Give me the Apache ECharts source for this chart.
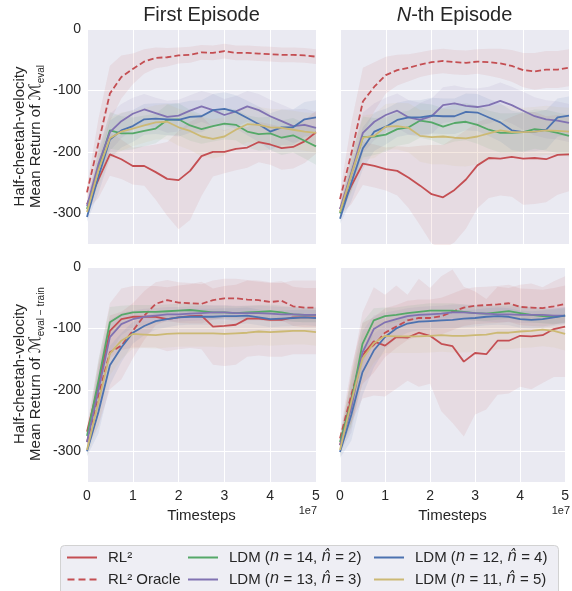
<!DOCTYPE html>
<html>
<head>
<meta charset="utf-8">
<script src="https://cdn.jsdelivr.net/npm/echarts@6/dist/echarts.min.js"></script>
<style>
  html, body { margin: 0; padding: 0; background: #fff; }
  #chart { width: 572px; height: 591px; }
</style>
</head>
<body>
<div id="chart"></div>
<script>
// timesteps, in units of 1e7
const steps = [0, 0.25, 0.5, 0.75, 1, 1.25, 1.5, 1.75, 2, 2.25, 2.5, 2.75, 3, 3.25, 3.5, 3.75, 4, 4.25, 4.5, 4.75, 5];

// --- M_eval, first episode ---
const evalFirstRl2 = [-285, -245, -204, -212, -223, -223, -233, -244, -246, -231, -207, -200, -200, -195, -193, -184, -188, -194, -192, -183, -168];
const evalFirstRl2Sd = [10, 30, 35, 32, 30, 32, 45, 60, 80, 80, 65, 40, 35, 35, 33, 33, 33, 35, 35, 35, 35];
const evalFirstOracle = [-266, -186, -105, -78, -65, -53, -47, -46, -43, -42, -38, -39, -36, -39, -39, -40, -41, -42, -42, -43, -45];
const evalFirstOracleSd = [10, 40, 45, 35, 25, 20, 17, 15, 13, 13, 12, 12, 12, 12, 12, 12, 12, 12, 12, 12, 12];
const evalFirstLdm14 = [-293, -225, -165, -170, -170, -166, -162, -148, -147, -157, -163, -158, -154, -156, -167, -171, -170, -177, -173, -182, -191];
const evalFirstLdm14Sd = [8, 26, 30, 28, 26, 25, 24, 25, 26, 25, 24, 25, 26, 25, 26, 27, 27, 28, 28, 29, 30];
const evalFirstLdm13 = [-288, -220, -168, -150, -138, -131, -137, -143, -141, -133, -126, -132, -140, -134, -126, -132, -142, -150, -158, -156, -161];
const evalFirstLdm13Sd = [8, 26, 30, 28, 26, 25, 25, 26, 26, 25, 25, 26, 26, 25, 25, 26, 27, 27, 27, 26, 26];
const evalFirstLdm12 = [-306, -240, -180, -165, -158, -147, -146, -147, -148, -143, -142, -132, -130, -135, -145, -155, -167, -160, -160, -147, -144];
const evalFirstLdm12Sd = [8, 27, 31, 28, 26, 25, 25, 26, 27, 26, 26, 26, 27, 27, 28, 29, 30, 29, 29, 28, 28];
const evalFirstLdm11 = [-298, -230, -178, -167, -162, -157, -152, -151, -160, -166, -175, -179, -175, -164, -155, -156, -160, -161, -164, -167, -169];
const evalFirstLdm11Sd = [8, 28, 33, 31, 29, 28, 28, 29, 30, 31, 32, 32, 31, 30, 29, 29, 30, 30, 31, 31, 32];

// --- M_eval, N-th episode ---
const evalNthRl2 = [-293, -255, -219, -223, -228, -231, -242, -255, -269, -274, -262, -245, -222, -210, -211, -208, -211, -210, -212, -205, -204];
const evalNthRl2Sd = [10, 30, 35, 35, 35, 40, 50, 65, 80, 85, 85, 80, 70, 65, 60, 65, 75, 75, 70, 65, 60];
const evalNthOracle = [-277, -202, -118, -94, -75, -67, -63, -58, -54, -52, -54, -55, -53, -54, -56, -60, -67, -69, -66, -66, -63];
const evalNthOracleSd = [10, 50, 55, 40, 30, 25, 22, 20, 20, 20, 20, 20, 20, 22, 24, 26, 28, 30, 30, 30, 30];
const evalNthLdm14 = [-300, -235, -176, -175, -172, -163, -160, -149, -152, -159, -153, -151, -156, -164, -169, -169, -168, -163, -165, -169, -174];
const evalNthLdm14Sd = [8, 28, 33, 30, 28, 27, 27, 28, 29, 30, 30, 30, 31, 31, 32, 32, 32, 32, 33, 33, 34];
const evalNthLdm13 = [-293, -234, -169, -151, -140, -133, -144, -148, -142, -124, -121, -125, -127, -124, -117, -124, -133, -142, -147, -149, -153];
const evalNthLdm13Sd = [8, 28, 33, 30, 28, 28, 28, 28, 29, 29, 29, 29, 30, 30, 30, 30, 31, 31, 31, 31, 31];
const evalNthLdm12 = [-309, -250, -194, -167, -159, -148, -144, -144, -141, -142, -142, -135, -136, -144, -152, -165, -168, -167, -164, -144, -141];
const evalNthLdm12Sd = [8, 30, 34, 31, 29, 28, 28, 28, 29, 29, 29, 30, 30, 30, 31, 32, 32, 32, 32, 31, 31];
const evalNthLdm11 = [-298, -237, -177, -174, -159, -158, -161, -174, -176, -175, -177, -178, -175, -170, -165, -168, -168, -167, -165, -166, -167];
const evalNthLdm11Sd = [8, 30, 36, 36, 37, 38, 40, 42, 44, 45, 46, 46, 45, 44, 42, 41, 40, 40, 40, 39, 39];

// --- M_eval-train, first episode ---
const trainFirstRl2 = [-268, -193, -104, -85, -81, -81, -81, -85, -82, -80, -79, -97, -96, -94, -84, -84, -86, -86, -82, -82, -82];
const trainFirstRl2Sd = [10, 40, 45, 50, 50, 50, 50, 52, 52, 52, 55, 62, 65, 65, 62, 60, 60, 60, 60, 60, 60];
const trainFirstOracle = [-285, -209, -139, -128, -104, -79, -60, -54, -58, -59, -60, -54, -51, -51, -53, -54, -57, -55, -64, -66, -66];
const trainFirstOracleSd = [10, 50, 60, 55, 45, 40, 35, 33, 33, 33, 32, 32, 32, 32, 32, 32, 32, 32, 32, 32, 32];
const trainFirstLdm14 = [-275, -185, -90, -78, -74, -73, -73, -72, -71, -70, -72, -74, -74, -75, -74, -73, -72, -74, -77, -78, -78];
const trainFirstLdm14Sd = [8, 35, 25, 15, 12, 11, 11, 11, 11, 11, 11, 11, 11, 11, 11, 11, 11, 11, 12, 12, 12];
const trainFirstLdm13 = [-285, -200, -114, -93, -85, -81, -79, -77, -77, -76, -75, -74, -74, -75, -75, -75, -76, -77, -77, -78, -78];
const trainFirstLdm13Sd = [8, 35, 28, 18, 14, 13, 12, 12, 12, 12, 12, 12, 12, 12, 12, 12, 12, 12, 12, 12, 12];
const trainFirstLdm12 = [-300, -236, -160, -131, -107, -96, -88, -85, -82, -81, -81, -81, -80, -80, -79, -82, -85, -84, -83, -82, -83];
const trainFirstLdm12Sd = [8, 35, 32, 24, 18, 15, 14, 13, 13, 13, 13, 13, 13, 13, 13, 13, 13, 13, 13, 13, 13];
const trainFirstLdm11 = [-298, -220, -141, -120, -109, -110, -111, -109, -108, -108, -108, -108, -109, -108, -107, -105, -106, -105, -104, -104, -106];
const trainFirstLdm11Sd = [10, 38, 35, 30, 24, 22, 22, 22, 22, 22, 22, 22, 22, 22, 22, 22, 22, 22, 22, 22, 22];

// --- M_eval-train, N-th episode ---
const trainNthRl2 = [-290, -214, -144, -121, -128, -114, -115, -107, -112, -125, -129, -154, -140, -142, -120, -120, -112, -113, -111, -101, -97];
const trainNthRl2Sd = [10, 40, 70, 88, 83, 84, 70, 88, 78, 110, 125, 122, 100, 90, 88, 86, 83, 86, 78, 78, 82];
const trainNthOracle = [-279, -209, -141, -127, -107, -97, -87, -83, -83, -80, -73, -66, -63, -62, -61, -59, -65, -66, -67, -64, -60];
const trainNthOracleSd = [10, 45, 50, 45, 40, 35, 32, 30, 30, 30, 30, 30, 30, 30, 30, 30, 30, 30, 30, 30, 30];
const trainNthLdm14 = [-285, -220, -125, -87, -80, -78, -75, -73, -71, -71, -71, -73, -75, -76, -74, -72, -75, -78, -80, -81, -79];
const trainNthLdm14Sd = [10, 40, 35, 20, 14, 12, 12, 12, 12, 12, 12, 12, 12, 12, 12, 12, 12, 12, 12, 12, 12];
const trainNthLdm13 = [-290, -230, -139, -101, -90, -85, -80, -78, -77, -76, -74, -74, -75, -76, -77, -77, -78, -78, -78, -79, -79];
const trainNthLdm13Sd = [10, 40, 35, 22, 16, 14, 13, 13, 13, 13, 13, 13, 13, 13, 13, 13, 13, 13, 13, 13, 13];
const trainNthLdm12 = [-301, -241, -171, -136, -114, -100, -92, -89, -88, -87, -86, -84, -83, -81, -80, -81, -85, -86, -85, -82, -79];
const trainNthLdm12Sd = [10, 42, 38, 28, 20, 16, 15, 14, 14, 14, 14, 14, 14, 14, 14, 14, 14, 14, 14, 14, 14];
const trainNthLdm11 = [-298, -220, -149, -124, -112, -113, -113, -113, -112, -111, -112, -112, -111, -110, -107, -107, -105, -104, -102, -104, -109];
const trainNthLdm11Sd = [10, 42, 40, 32, 28, 27, 27, 27, 27, 27, 27, 27, 27, 27, 27, 27, 27, 27, 27, 27, 27];

const names = ['RL²', 'RL² Oracle', 'LDM (n = 14, n̂ = 2)', 'LDM (n = 13, n̂ = 3)', 'LDM (n = 12, n̂ = 4)', 'LDM (n = 11, n̂ = 5)'];
const colors = ['#C44E52', '#C44E52', '#55A868', '#8172B2', '#4C72B0', '#CCB974'];
const legendLabels = {
  'RL²': 'RL²',
  'RL² Oracle': 'RL² Oracle',
  'LDM (n = 14, n̂ = 2)': 'LDM ({i|n} = 14, {i|n̂} = 2)',
  'LDM (n = 13, n̂ = 3)': 'LDM ({i|n} = 13, {i|n̂} = 3)',
  'LDM (n = 12, n̂ = 4)': 'LDM ({i|n} = 12, {i|n̂} = 4)',
  'LDM (n = 11, n̂ = 5)': 'LDM ({i|n} = 11, {i|n̂} = 5)'
};

const panels = [
  { mean: [evalFirstRl2, evalFirstOracle, evalFirstLdm14, evalFirstLdm13, evalFirstLdm12, evalFirstLdm11],
    sd: [evalFirstRl2Sd, evalFirstOracleSd, evalFirstLdm14Sd, evalFirstLdm13Sd, evalFirstLdm12Sd, evalFirstLdm11Sd] },
  { mean: [evalNthRl2, evalNthOracle, evalNthLdm14, evalNthLdm13, evalNthLdm12, evalNthLdm11],
    sd: [evalNthRl2Sd, evalNthOracleSd, evalNthLdm14Sd, evalNthLdm13Sd, evalNthLdm12Sd, evalNthLdm11Sd] },
  { mean: [trainFirstRl2, trainFirstOracle, trainFirstLdm14, trainFirstLdm13, trainFirstLdm12, trainFirstLdm11],
    sd: [trainFirstRl2Sd, trainFirstOracleSd, trainFirstLdm14Sd, trainFirstLdm13Sd, trainFirstLdm12Sd, trainFirstLdm11Sd] },
  { mean: [trainNthRl2, trainNthOracle, trainNthLdm14, trainNthLdm13, trainNthLdm12, trainNthLdm11],
    sd: [trainNthRl2Sd, trainNthOracleSd, trainNthLdm14Sd, trainNthLdm13Sd, trainNthLdm12Sd, trainNthLdm11Sd] }
];

const FONT = 'Liberation Sans';
const TEXT = '#262626';
const gridPos = [
  { left: 87, top: 29 },
  { left: 340, top: 29 },
  { left: 87, top: 267 },
  { left: 340, top: 267 }
];

function rgba(hex, a) {
  const n = parseInt(hex.slice(1), 16);
  return 'rgba(' + (n >> 16) + ',' + ((n >> 8) & 255) + ',' + (n & 255) + ',' + a + ')';
}

let series = [];
panels.forEach(function (p, g) {
  // shaded std bands: invisible lower line + stacked width.
  // y is put in the first column so the stack is done on y, not x.
  p.mean.forEach(function (m, k) {
    const sd = p.sd[k];
    const stack = 'band' + g + '_' + k;
    series.push({
      type: 'line', name: 'band', xAxisIndex: g, yAxisIndex: g, stack: stack, stackStrategy: 'all',
      symbol: 'none', silent: true, z: 1, lineStyle: { opacity: 0 }, encode: { x: 1, y: 0 },
      data: steps.map(function (x, i) { return [m[i] - sd[i], x]; })
    });
    series.push({
      type: 'line', name: 'band', xAxisIndex: g, yAxisIndex: g, stack: stack, stackStrategy: 'all',
      symbol: 'none', silent: true, z: 1, lineStyle: { opacity: 0 }, encode: { x: 1, y: 0 },
      areaStyle: { color: rgba(colors[k], 0.14) },
      data: steps.map(function (x, i) { return [2 * sd[i], x]; })
    });
  });
  p.mean.forEach(function (m, k) {
    series.push({
      type: 'line', name: names[k], xAxisIndex: g, yAxisIndex: g,
      symbol: 'none', silent: true, z: 3,
      lineStyle: { color: colors[k], width: 1.8, type: k === 1 ? [6, 3] : 'solid' },
      itemStyle: { color: colors[k] },
      data: steps.map(function (x, i) { return [x, m[i]]; })
    });
  });
});

const grids = gridPos.map(function (p) {
  return { left: p.left, top: p.top, width: 229, height: 215, show: true,
           backgroundColor: '#EAEAF2', borderWidth: 0 };
});

const xAxes = gridPos.map(function (p, g) {
  return {
    type: 'value', gridIndex: g, min: 0, max: 5, interval: 1,
    axisLine: { show: false }, axisTick: { show: false },
    splitLine: { show: true, lineStyle: { color: '#ffffff', width: 1 } },
    axisLabel: { show: g >= 2, fontSize: 14, fontFamily: FONT, color: TEXT, margin: 7 },
    name: g >= 2 ? 'Timesteps' : '', nameLocation: 'middle', nameGap: 26,
    nameTextStyle: { fontSize: 15, fontFamily: FONT, color: TEXT }
  };
});

const yAxes = gridPos.map(function (p, g) {
  return {
    type: 'value', gridIndex: g, min: -350, max: 0, splitNumber: 4,
    axisLine: { show: false }, axisTick: { show: false },
    splitLine: { show: true, lineStyle: { color: '#ffffff', width: 1 } },
    axisLabel: { show: g % 2 === 0, showMinLabel: false, fontSize: 14, fontFamily: FONT, color: TEXT, margin: 6 }
  };
});

const solidIcon = 'rect';
const dashIcon = 'path://M0,0h7v2h-7z M11,0h7v2h-7z M22,0h7v2h-7z';

function legendBlock(left, data) {
  return {
    orient: 'vertical', left: left, top: 550, padding: 0, itemWidth: 30, itemHeight: 2, itemGap: 7,
    selectedMode: false, z: 5,
    data: data.map(function (n) { return { name: n, icon: n === names[1] ? dashIcon : solidIcon }; }),
    formatter: function (name) { return legendLabels[name]; },
    textStyle: { fontSize: 15, fontFamily: FONT, color: TEXT, padding: [0, 0, 0, 6],
                 rich: { i: { fontSize: 15, fontFamily: 'DejaVu Sans', fontStyle: 'italic', color: TEXT } } }
  };
}

const yTitleRich = {
  m: { fontSize: 16, fontFamily: 'DejaVu Sans', lineHeight: 20, verticalAlign: 'middle', fill: TEXT },
  s: { fontSize: 10, fontFamily: FONT, lineHeight: 10, verticalAlign: 'bottom', fill: TEXT },
  t: { fontSize: 15, fontFamily: FONT, lineHeight: 20, verticalAlign: 'middle', fill: TEXT }
};

function textEl(x, y, text, size, rot, rich, align) {
  return {
    type: 'text', x: x, y: y, rotation: rot || 0, z: 6,
    style: { text: text, fontSize: size, fontFamily: FONT, fill: TEXT,
             align: align || 'center', verticalAlign: 'middle', rich: rich || {} }
  };
}

const chart = echarts.init(document.getElementById('chart'), null, { renderer: 'canvas' });
chart.setOption({
  animation: false,
  backgroundColor: '#ffffff',
  grid: grids,
  xAxis: xAxes,
  yAxis: yAxes,
  legend: [
    legendBlock(67, [names[0], names[1]]),
    legendBlock(188, [names[2], names[3]]),
    legendBlock(374, [names[4], names[5]])
  ],
  graphic: [
    { type: 'rect', z: 0, shape: { x: 60.5, y: 545.5, width: 498, height: 60, r: 4 },
      style: { fill: '#EEEEF4', stroke: '#D2D2D2', lineWidth: 1 } },
    textEl(201.5, 15, 'First Episode', 20),
    textEl(454.5, 15, '{n|N}-th Episode', 20, 0,
           { n: { fontSize: 20, fontFamily: FONT, fontStyle: 'italic', fill: TEXT } }),
    textEl(20, 136.5, 'Half-cheetah-velocity', 15, Math.PI / 2),
    textEl(36, 136.5, '{t|Mean Return of }{m|ℳ}{s|eval}', 15, Math.PI / 2, yTitleRich),
    textEl(20, 374, 'Half-cheetah-velocity', 15, Math.PI / 2),
    textEl(36, 374, '{t|Mean Return of }{m|ℳ}{s|eval − train}', 15, Math.PI / 2, yTitleRich),
    textEl(317, 511, '1e7', 11, 0, null, 'right'),
    textEl(570, 511, '1e7', 11, 0, null, 'right')
  ],
  series: series
});
</script>
</body>
</html>
